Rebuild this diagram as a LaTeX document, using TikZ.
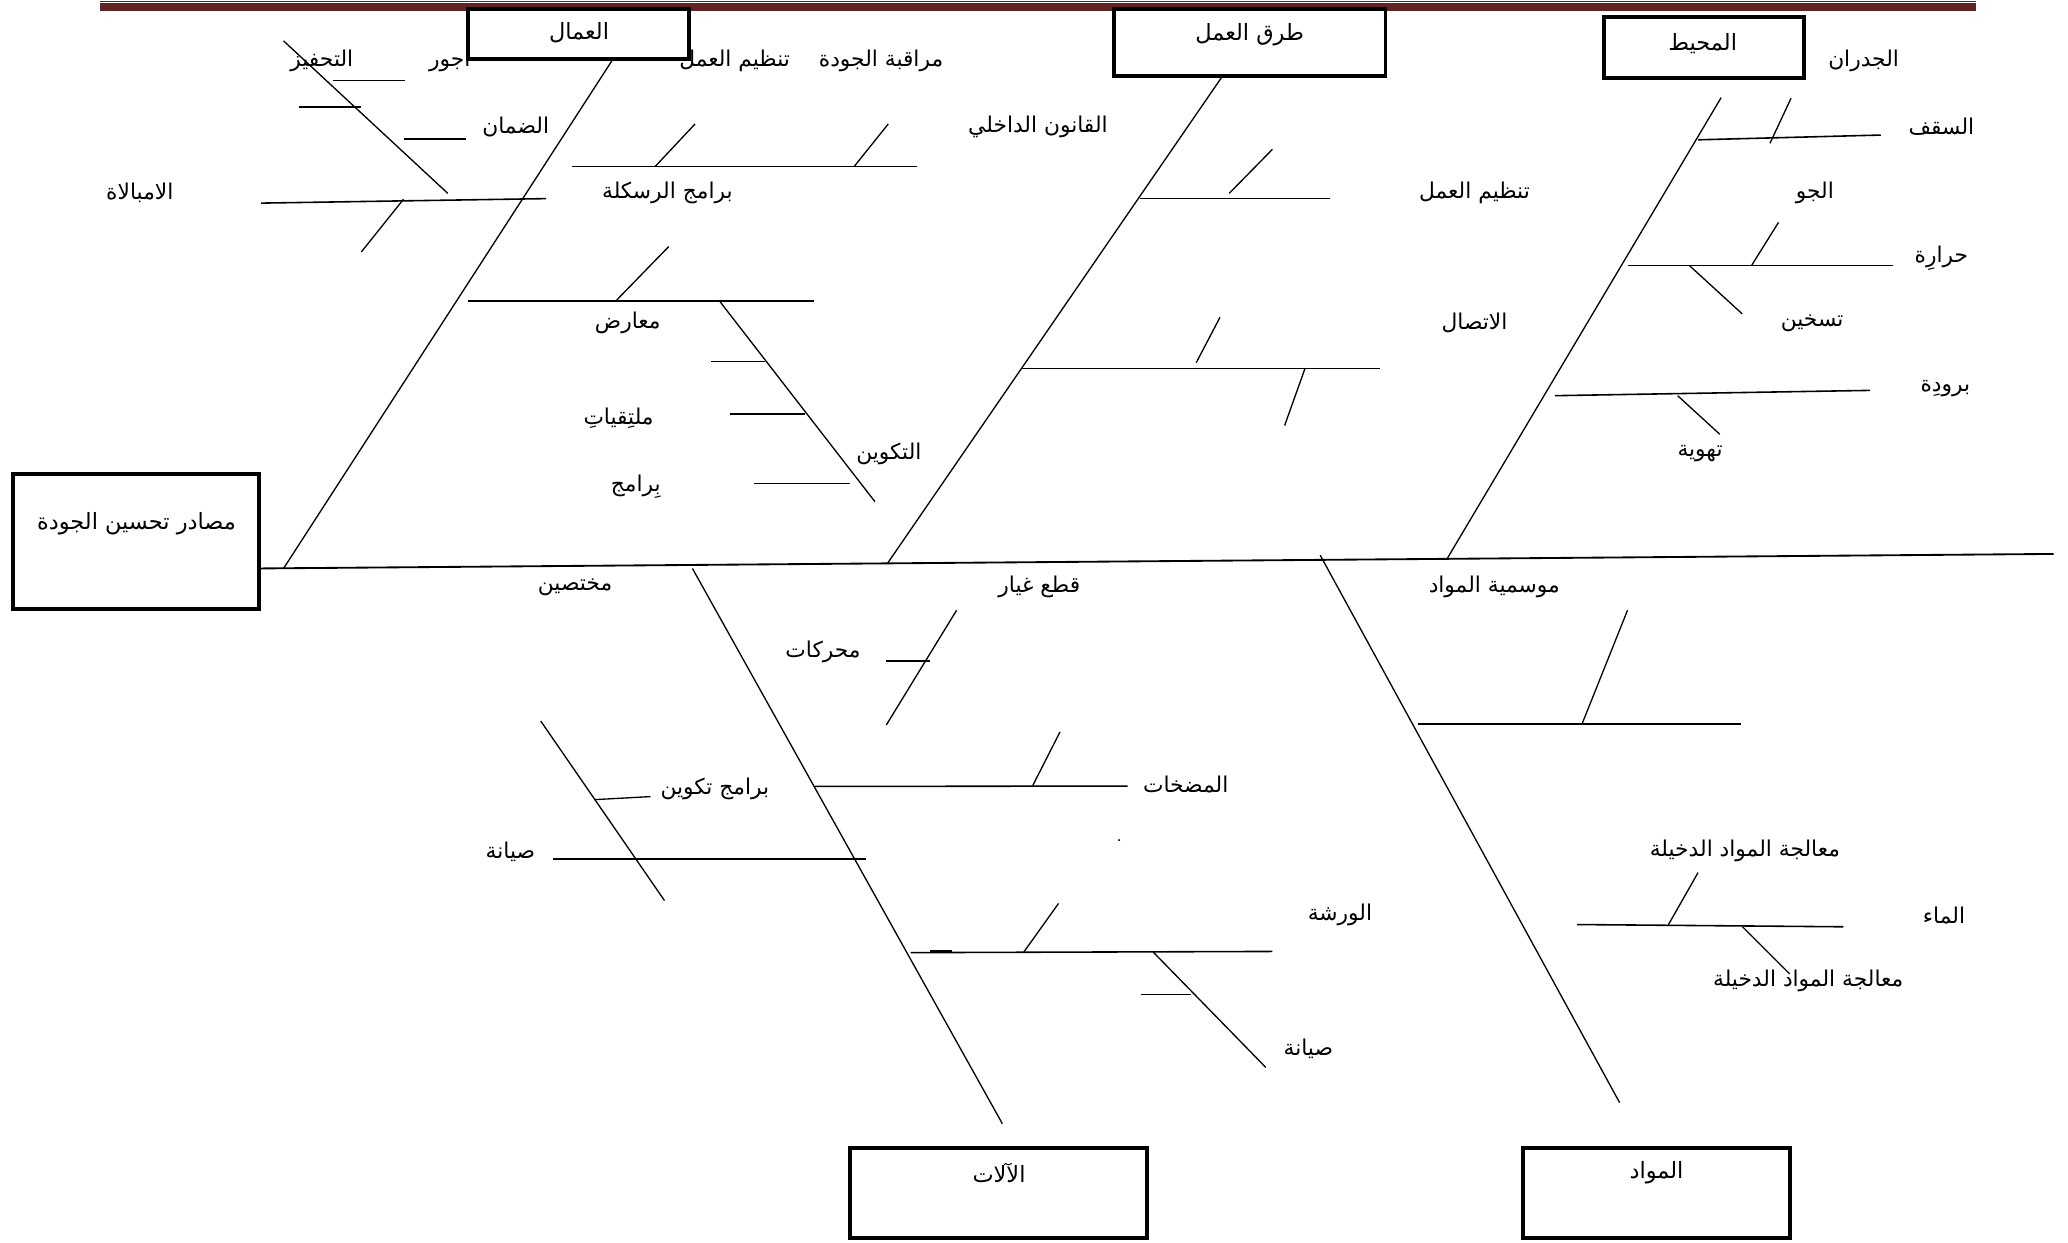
\documentclass[tikz,border=0pt]{standalone}
\usepackage{fontspec}
\newfontfamily\arabicfont[Script=Arabic]{DejaVu Sans}
\TeXXeTstate=1
\newcommand{\artxt}[1]{\beginR #1\endR}
\definecolor{barred}{HTML}{622423}
\begin{document}
\begin{tikzpicture}[x=1pt,y=-1pt,
  spine/.style={line width=1.4pt},
  bone/.style={line width=1pt},
  twig/.style={line width=1.2pt},
  cat/.style={draw, line width=3pt, fill=white, inner sep=0pt},
  lbl/.style={font=\arabicfont\fontsize{16.5}{19}\selectfont, inner sep=0pt},
  boxlbl/.style={font=\arabicfont\fontsize{17}{20}\selectfont, inner sep=0pt}]
\useasboundingbox (0,0) rectangle (1568,942);

% header rule
\fill[barred] (76,0.4) rectangle (1498,1.4);
\fill[barred] (76,2.6) rectangle (1498,8.4);

% ---------- labels ----------
\node[lbl] (l1) at (244,46) {\artxt{التحفيز}};
\node[lbl] (l2) at (341,46) {\artxt{اجور}};
\node[lbl] (l3) at (557,46) {\artxt{تنظيم العمل}};
\node[lbl] (l4) at (668,46) {\artxt{مراقبة الجودة}};
\node[lbl] (l5) at (391,96) {\artxt{الضمان}};
\node[lbl] (l6) at (787,96) {\artxt{القانون الداخلي}};
\node[lbl] (l7) at (106,146) {\artxt{الامبالاة}};
\node[lbl] (l8) at (506,146) {\artxt{برامج الرسكلة}};
\node[lbl] (l9) at (476,245) {\artxt{معارض}};
\node[lbl] (l10) at (469,317) {\artxt{ملتِقياتِ}};
\node[lbl] (l11) at (482,369) {\artxt{بِرامج}};
\node[lbl] (l12) at (674,344) {\artxt{التكوين}};
\node[lbl] (l13) at (436,445) {\artxt{مختصين}};
\node[lbl] (l14) at (1118,146) {\artxt{تنظيم العمل}};
\node[lbl] (l15) at (1118,245) {\artxt{الاتصال}};
\node[lbl] (l16) at (1413,46) {\artxt{الجدران}};
\node[lbl] (l17) at (1472,96) {\artxt{السقف}};
\node[lbl] (l18) at (1376,146) {\artxt{الجو}};
\node[lbl] (l19) at (1472,196) {\artxt{حرارِة}};
\node[lbl] (l20) at (1374,245) {\artxt{تسخين}};
\node[lbl] (l21) at (1475,295) {\artxt{برودِة}};
\node[lbl] (l22) at (1289,344) {\artxt{تهوية}};
\node[lbl] (l23) at (788,445) {\artxt{قطع غيار}};
\node[lbl] (l24) at (624,494) {\artxt{محركات}};
\node[lbl] (l25) at (542,598) {\artxt{برامج تكوين}};
\node[lbl] (l26) at (899,595) {\artxt{المضخات}};
\node[lbl] (l27) at (387,646) {\artxt{صيانة}};
\node[lbl] (l28) at (1016,694) {\artxt{الورشة}};
\node[lbl] (l29) at (992,795) {\artxt{صيانة}};
\node[lbl] (l30) at (1133,445) {\artxt{موسمية المواد}};
\node[lbl] (l31) at (1323,645) {\artxt{معالجة المواد الدخيلة}};
\node[lbl] (l32) at (1474,694) {\artxt{الماء}};
\node[lbl] (l33) at (1371,744) {\artxt{معالجة المواد الدخيلة}};
\fill (848.5,637) circle (0.8pt);

% ---------- category boxes ----------
\node[cat, minimum width=168pt, minimum height=38pt] (workers) at (438.5,25.5) {};
\node[cat, minimum width=206pt, minimum height=51pt] (methods) at (947.5,32) {};
\node[cat, minimum width=151pt, minimum height=46pt] (env) at (1292,36) {};
\node[cat, minimum width=187pt, minimum height=102pt] (effect) at (103,410.5) {};
\node[cat, minimum width=225pt, minimum height=68pt] (machines) at (757,904.5) {};
\node[cat, minimum width=202pt, minimum height=68pt] (materials) at (1256,904.5) {};
\node[boxlbl] (workers-t) at (439,25) {\artxt{العمال}};
\node[boxlbl] (methods-t) at (947.5,26) {\artxt{طرق العمل}};
\node[boxlbl] (env-t) at (1291,33) {\artxt{المحيط}};
\node[boxlbl] (effect-t) at (103.5,397) {\artxt{مصادر تحسين الجودة}};
\node[boxlbl] (machines-t) at (757.5,889) {\artxt{الآلات}};
\node[boxlbl] (materials-t) at (1256,889) {\artxt{المواد}};

% ---------- spine ----------
\coordinate (spR) at (1557,420);
\draw[spine] (effect.east |- 0,431) -- (spR);

% ---------- main bones ----------
\coordinate (bW) at (215,431);
\coordinate (bM) at (673,427);
\coordinate (bE) at (1097,424);
\coordinate (bMa) at (525,431);
\coordinate (bMt) at (1001,421);
\draw[bone] (bW) -- (workers.south -| 464,0);
\draw[bone] (bM) -- (methods.south -| 926,0);
\draw[bone] (bE) -- (1305,74);
\draw[bone] (bMa) -- (760,852);
\draw[bone] (bMt) -- (1228,836);

% ---------- workers ----------
\draw[bone] (215,31) -- (339.5,146.6);
\draw[twig] (252.5,61) -- (307,61);
\draw[twig] (227,81) -- (274,81);
\draw[twig] (306,105.6) -- (353,105.6);
\draw[twig] (198,154) -- (414,150.6);
\draw[bone] (306,151) -- (274,191);
\draw[twig] (434,126.4) -- (695,126.4);
\draw[bone] (496.6,126.4) -- (527,94);
\draw[bone] (647.5,126.4) -- (673.5,94);
\draw[bone] (507,187) -- (467.6,227.5);
\draw[twig] (354.5,228.2) -- (617.5,228.2);
\draw[bone] (545.5,228.2) -- (663.4,380.4);
\draw[twig] (539,274) -- (580,274);
\draw[twig] (553.6,314) -- (610,314);
\draw[twig] (571.6,366.7) -- (644.6,366.7);

% ---------- methods ----------
\draw[twig] (864,150.6) -- (1008.7,150.6);
\draw[bone] (932,146.6) -- (964.8,113.2);
\draw[twig] (775,279.3) -- (1046.4,279.3);
\draw[bone] (907,275) -- (925,240.6);
\draw[bone] (989.5,279.3) -- (974,322.7);

% ---------- environment ----------
\draw[twig] (1287.6,106) -- (1426,102.4);
\draw[bone] (1358,74.5) -- (1342,108.7);
\draw[twig] (1234,201.4) -- (1435,201.4);
\draw[bone] (1328,201.4) -- (1348.5,168.6);
\draw[bone] (1281,201.4) -- (1321,238);
\draw[twig] (1179,300) -- (1418,296);
\draw[bone] (1272,300) -- (1304,329.3);

% ---------- machines ----------
\draw[twig] (672,501) -- (705,501);
\draw[bone] (725.3,462.7) -- (672,549.7);
\draw[bone] (410,546.7) -- (503.8,682.8);
\draw[bone] (450.7,606.3) -- (493.2,604);
\draw[twig] (419,651.3) -- (656.6,651.3);
\draw[twig] (618,596.3) -- (855,596);
\draw[bone] (783,595.7) -- (803.7,555);
\draw[twig] (690.5,722.3) -- (964.8,721.4);
\draw[twig] (705,721) -- (722,721);
\draw[bone] (776.3,721.8) -- (802.6,685);
\draw[bone] (874.5,722) -- (959.7,809.3);
\draw[twig] (865,754) -- (902.8,754);

% ---------- materials ----------
\draw[twig] (1074.8,549) -- (1319.7,549);
\draw[bone] (1199.8,548.2) -- (1234,462.7);
\draw[twig] (1195.7,701) -- (1397.6,702.7);
\draw[bone] (1264.4,702.2) -- (1287.5,661.6);
\draw[bone] (1321,702.5) -- (1357,738.5);
\end{tikzpicture}
\end{document}
